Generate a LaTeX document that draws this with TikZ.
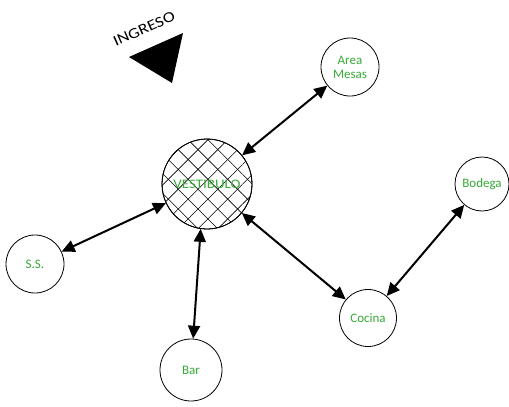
\documentclass[tikz,border=0pt]{standalone}
\usepackage{fontspec}
\setmainfont{Carlito}
\usetikzlibrary{arrows.meta,patterns.meta}
\definecolor{lbl}{RGB}{55,170,55}
\tikzset{
  room/.style={circle,draw=black,line width=0.8pt,inner sep=0pt,text=lbl,font=\fontsize{13}{14}\selectfont,align=center},
  link/.style={line width=2pt,{Triangle[length=13pt,width=12pt]}-{Triangle[length=13pt,width=12pt]}},
}
\begin{document}
\begin{tikzpicture}[x=1pt,y=-1pt]
\useasboundingbox (0,0) rectangle (509,407);
\fill[white] (0,0) rectangle (509,407);
\node[room,minimum size=90pt,
  pattern={Lines[angle=45,distance=14pt,line width=0.6pt]}] (vp) at (207,184) {};
\node[room,minimum size=90pt,
  pattern={Lines[angle=-45,distance=14pt,line width=0.6pt]}] (v) at (207,184) {\scalebox{1.15}[1]{VESTIBULO}};
\node[room,minimum size=58pt] (am) at (350,67) {Area\\Mesas};
\node[room,minimum size=54pt] (bo) at (482,184) {Bodega};
\node[room,minimum size=58pt] (ss) at (35,264) {S.S.};
\node[room,minimum size=57pt] (co) at (368,318) {Cocina};
\node[room,minimum size=62pt] (ba) at (191,370) {Bar};
\coordinate (t1) at (129,57);
\coordinate (t2) at (183,33);
\coordinate (t3) at (172,83);
\fill[black] (t1) -- (t2) -- (t3) -- cycle;
\node[rotate=24,font=\fontsize{15}{16}\selectfont,inner sep=0pt] (ing) at (144,29) {\scalebox{1.2}[1]{INGRESO}};
\draw[link] (v) -- (am);
\draw[link] (v) -- (ss);
\draw[link] (v.-98) -- (ba);
\draw[link] (v) -- (co);
\draw[link] (co) -- (bo);
\end{tikzpicture}
\end{document}
